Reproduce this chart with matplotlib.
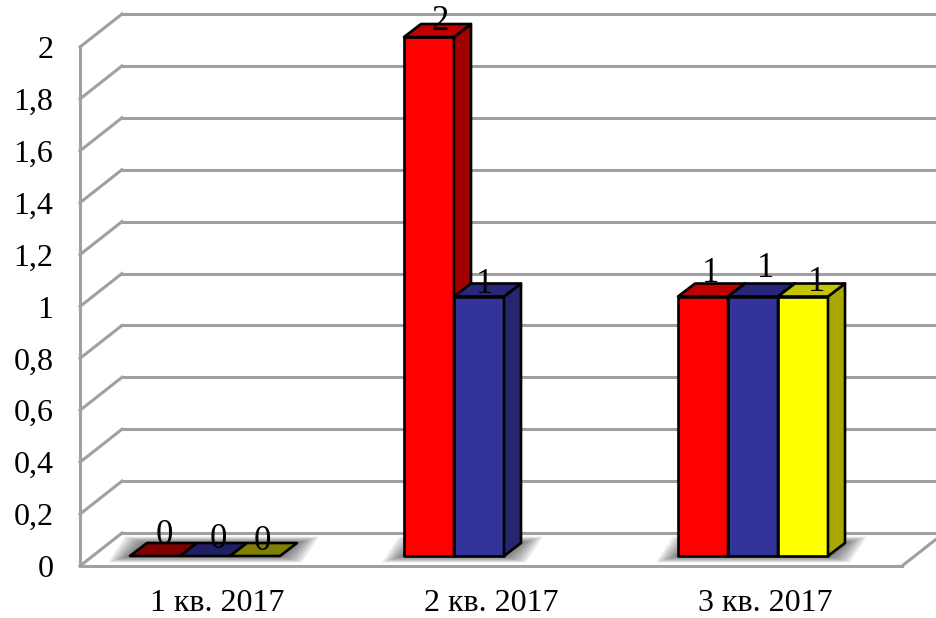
import matplotlib
matplotlib.use('Agg')
import matplotlib.pyplot as plt
from matplotlib.patches import Polygon

plt.rcParams['font.family'] = ['Liberation Serif', 'DejaVu Serif']

# data
quarters = ['1 кв. 2017', '2 кв. 2017', '3 кв. 2017']
series_1 = [0, 2, 1]
series_2 = [0, 1, 1]
series_3 = [0, None, 1]
y_ticks = [0, 0.2, 0.4, 0.6, 0.8, 1, 1.2, 1.4, 1.6, 1.8, 2]
y_labels = ['0', '0,2', '0,4', '0,6', '0,8', '1', '1,2', '1,4', '1,6', '1,8', '2']

# colours: front, side, top, top of an empty bar
red = ['#ff0000', '#a00000', '#c00000', '#800000']
blue = ['#333399', '#26266f', '#26267a', '#1f1f66']
yellow = ['#ffff00', '#a8a800', '#c4c400', '#808000']
grid_col = '#a0a0a0'

# label nudges in pixels, per series and quarter
nudge_1 = [(9, 21), (11, 16), (8, 23)]
nudge_2 = [(13, 17), (6, 12), (13, 28)]
nudge_3 = [(7, 14), None, (14, 14)]

fig = plt.figure(figsize=(9.37, 6.18), dpi=100)
ax = fig.add_axes([80 / 937, 52 / 618, 822 / 937, 519 / 618])
ax.set_xlim(-0.5, 2.5)
ax.set_ylim(0, 2)

# pixels to data units
ux = 1 / 274
uy = 1 / 259.5

# walls
wall_dx, wall_dy = 42 * ux, 33 * uy
for v in y_ticks:
    ax.plot([-0.5, -0.5 + wall_dx], [v, v + wall_dy], color=grid_col, lw=2.2, clip_on=False, zorder=1)
    ax.plot([-0.5 + wall_dx, 2.7], [v + wall_dy, v + wall_dy], color=grid_col, lw=2.2, clip_on=False, zorder=1)
ax.plot([2.5, 2.5 + wall_dx], [0, wall_dy], color=grid_col, lw=2.2, clip_on=False, zorder=1)

for side in ['top', 'right']:
    ax.spines[side].set_visible(False)
for side in ['left', 'bottom']:
    ax.spines[side].set_color(grid_col)
    ax.spines[side].set_linewidth(2.2)

ax.set_xticks(range(3))
ax.set_xticklabels(quarters, fontsize=23)
ax.set_yticks(y_ticks)
ax.set_yticklabels(y_labels, fontsize=23)
ax.tick_params(axis='x', length=0, pad=16.5)
ax.tick_params(axis='y', length=0, pad=19)

# bars
bar_w = 50 * ux
shift = -12 * ux
base = 10 * uy
dx, dy = 17 * ux, 13 * uy


def draw_bar(x, val, cols, z):
    left = x - bar_w / 2
    top = base + val
    edge = dict(edgecolor='black', linewidth=1.9, joinstyle='round', clip_on=False)
    if val > 0:
        ax.bar(x, val, bar_w, bottom=base, color=cols[0], zorder=z, **edge)
        ax.add_patch(Polygon([(left + bar_w, base), (left + bar_w + dx, base + dy),
                              (left + bar_w + dx, top + dy), (left + bar_w, top)],
                             facecolor=cols[1], zorder=z, **edge))
    top_col = cols[2] if val > 0 else cols[3]
    ax.add_patch(Polygon([(left, top), (left + dx, top + dy),
                          (left + bar_w + dx, top + dy), (left + bar_w, top)],
                         facecolor=top_col, zorder=z, **edge))


def draw_shadow(left, right):
    # soft shadow on the floor, faked with stacked see-through shapes
    for grow in range(1, 13):
        g = (24 - 2 * grow) * ux
        gy = (7 - 0.6 * grow) * uy
        ax.add_patch(Polygon([(left - g, base - gy), (left + dx - g, base + dy + gy),
                              (right + dx + g, base + dy + gy), (right + g, base - gy)],
                             facecolor='#303030', edgecolor='none', alpha=0.08,
                             clip_on=False, zorder=2))


all_series = [(series_1, red, nudge_1), (series_2, blue, nudge_2), (series_3, yellow, nudge_3)]

for q in range(3):
    n = sum(s[0][q] is not None for s in all_series)
    centre = q + shift
    draw_shadow(centre - 1.5 * bar_w, centre - 1.5 * bar_w + n * bar_w)

z = 3
for q in range(3):
    centre = q + shift
    for i, (vals, cols, nudge) in enumerate(all_series):
        if vals[q] is None:
            continue
        x = centre + (i - 1) * bar_w
        draw_bar(x, vals[q], cols, z)
        z += 1

# value labels go on top of everything
for q in range(3):
    centre = q + shift
    for i, (vals, cols, nudge) in enumerate(all_series):
        if vals[q] is None:
            continue
        x = centre + (i - 1) * bar_w
        nx, ny = nudge[q]
        ax.annotate(str(vals[q]), (x, base + vals[q]), xytext=(nx * 0.72, ny * 0.72),
                    textcoords='offset points', ha='center', va='center',
                    fontsize=25, color='black', annotation_clip=False, zorder=50)

fig.savefig('out.png', dpi=100)
